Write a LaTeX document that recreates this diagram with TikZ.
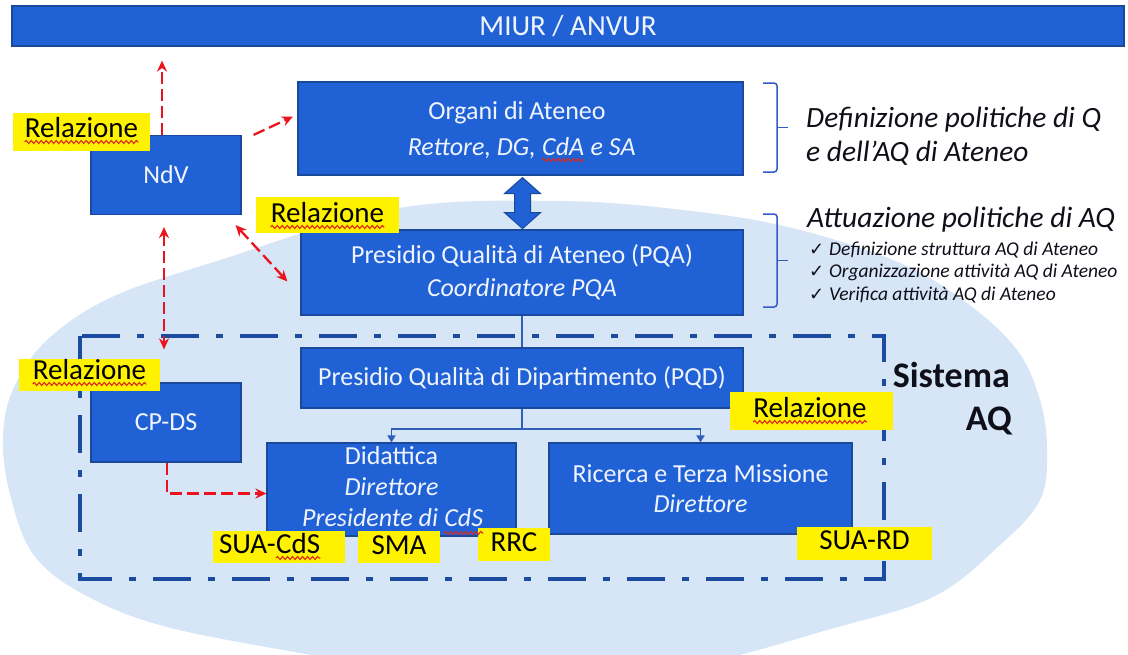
\documentclass[tikz,border=0pt]{standalone}
\usepackage{fontspec}
\setmainfont{Carlito}
\newfontfamily\djv{DejaVu Sans}
\usetikzlibrary{arrows.meta,calc,decorations.pathmorphing}
\definecolor{boxblue}{RGB}{32,98,214}
\definecolor{boxborder}{RGB}{26,72,155}
\definecolor{ellblue}{RGB}{214,230,247}
\definecolor{frameblue}{RGB}{28,76,160}
\definecolor{relred}{RGB}{235,20,30}
\definecolor{wavered}{RGB}{220,40,30}
\definecolor{boxtext}{RGB}{240,244,255}
\definecolor{lineblue}{RGB}{46,95,185}
\definecolor{bracketblue}{RGB}{50,90,200}
\definecolor{txtdark}{RGB}{15,15,25}
\tikzset{
  box/.style={draw=boxborder, line width=1.2pt, fill=boxblue, text=boxtext,
    font=\fontsize{26}{32}\selectfont, align=center, inner sep=0pt},
  btxt/.style={text=boxtext, font=\fontsize{26}{32}\selectfont, inner sep=0pt, anchor=base},
  lab/.style={fill=yellow, inner sep=0pt},
  labtxt/.style={text=black, font=\fontsize{29}{32}\selectfont, inner sep=0pt, anchor=base},
  wave/.style={draw=wavered, line width=1.1pt, decorate,
    decoration={snake, amplitude=1.5pt, segment length=5pt}},
  relarr/.style={draw=relred, line width=2.3pt, dash pattern=on 12pt off 5pt,
    -{Stealth[length=11pt,width=10pt]}},
  relboth/.style={relarr, {Stealth[length=11pt,width=10pt]}-{Stealth[length=11pt,width=10pt]}},
  conn/.style={draw=lineblue, line width=1.8pt},
  connarr/.style={conn, -{Triangle[length=7pt,width=8pt]}},
  bracket/.style={draw=bracketblue, line width=1.5pt, rounded corners=3pt},
  frame/.style={draw=frameblue, line width=4pt, dash pattern=on 38pt off 17pt on 7pt off 17pt},
  sidetext/.style={text=txtdark, inner sep=0pt}
}
\begin{document}
\begin{tikzpicture}[x=1pt,y=-1pt]
\useasboundingbox (0,0) rectangle (1128,654);
\fill[white] (0,0) rectangle (1128,654);
\clip (0,0) rectangle (1128,654);

% light ellipse
\fill[ellblue] plot[smooth cycle, tension=0.6] coordinates {
  (3,440) (12,392) (45,342) (110,298) (214,262) (393,209) (560,201) (700,212)
  (800,230) (900,263) (967,303) (1017,350) (1040,400) (1047,450) (1040,500)
  (1000,545) (933,597) (827,630) (700,664) (560,682) (430,676) (317,656)
  (167,627) (83,594) (33,554) (10,494)};

% Sistema AQ frame
\draw[frame] (80,336) rectangle (884,579);

% top bar
\node[box, font=\fontsize{29}{32}\selectfont, minimum width=1112pt, minimum height=40pt] (miur) at (568,26) {MIUR / ANVUR};

% boxes
\node[box, minimum width=445pt, minimum height=93pt] (org) at (520.5,128.5) {};
\node[btxt] (org1) at (517,119) {Organi di Ateneo};
\node[btxt, anchor=base west, font=\fontsize{26}{32}\selectfont\itshape] (org3) at (542,155) {CdA};
\node[btxt, anchor=base east, font=\fontsize{26}{32}\selectfont\itshape] (org2) at ([xshift=-6pt]org3.base west) {Rettore, DG,};
\node[btxt, anchor=base west, font=\fontsize{26}{32}\selectfont\itshape] (org4) at ([xshift=6pt]org3.base east) {e SA};
\draw[wave] ([yshift=-5pt]org3.base west) -- ([yshift=-5pt]org3.base east);

\node[box, minimum width=150pt, minimum height=79pt] (ndv) at (166,175) {NdV};
\node[box, font=\fontsize{26}{33}\selectfont, minimum width=442pt, minimum height=85pt] (pqa) at (522,272.5)
  {Presidio Qualità di Ateneo (PQA)\\ \textit{Coordinatore PQA}};
\node[box, minimum width=442pt, minimum height=60pt] (pqd) at (522,378) {Presidio Qualità di Dipartimento (PQD)};
\node[box, minimum width=150pt, minimum height=79pt] (cpds) at (166,422.5) {CP-DS};
\node[box, minimum width=249pt, minimum height=93pt] (did) at (391.5,489.5) {};
\node[btxt] (did1) at (391.5,464) {Didattica};
\node[btxt, font=\fontsize{26}{32}\selectfont\itshape] (did2) at (391.5,495) {Direttore};
\node[btxt, anchor=base west, font=\fontsize{26}{32}\selectfont\itshape] (did3) at (302,526) {Presidente di};
\node[btxt, anchor=base west, font=\fontsize{26}{32}\selectfont\itshape] (did4) at ([xshift=6pt]did3.base east) {CdS};
\node[box, font=\fontsize{26}{30}\selectfont, minimum width=303pt, minimum height=91pt] (ric) at (700.5,488.5)
  {Ricerca e Terza Missione\\ \textit{Direttore}};

% blue connectors
\draw[conn] (pqa.south) -- (pqd.north);
\draw[conn] (pqd.south) -- ++(0,20) coordinate (br);
\draw[connarr] (br) -| (did.north);
\draw[connarr] (br) -| (ric.north);

% big double arrow
\draw[fill=boxblue, draw=boxborder, line width=1pt, line join=miter]
  ($(org.south)+(2,2)$) -- ++(18,16) -- ++(-10,0) -- ++(0,19) -- ++(10,0) -- ++(-18,16)
  -- ++(-18,-16) -- ++(10,0) -- ++(0,-19) -- ++(-10,0) -- cycle;

% red relation arrows
\draw[relarr, shorten >=14pt] ([xshift=-4pt]ndv.north) -- ([xshift=-4pt]ndv.north |- miur.south);
\draw[relarr, shorten >=5pt] ([xshift=12pt]ndv.north east) -- ([yshift=14pt]org.west);
\draw[relboth] ([xshift=-6pt,yshift=-10pt]ndv.south east) -- ([xshift=-13pt,yshift=-9pt]pqa.west);
\draw[relboth] ([xshift=-2pt,yshift=-12pt]ndv.south) -- ([xshift=-2pt,yshift=33pt]cpds.north);
\draw[relarr] ([xshift=1pt]cpds.south) |- ([yshift=-4pt]did.west);

% yellow labels
\node[lab, minimum width=137pt, minimum height=38pt] (r1) at (81.5,132) {};
\node[labtxt] (r1t) at (81.5,137) {Relazione};
\node[lab, minimum width=143pt, minimum height=36pt] (r2) at (327.5,215) {};
\node[labtxt] (r2t) at (327.5,222) {Relazione};
\node[lab, minimum width=141pt, minimum height=32pt] (r3) at (89.5,375) {};
\node[labtxt] (r3t) at (89.5,379) {Relazione};
\node[lab, minimum width=163pt, minimum height=38pt] (r4) at (811.5,411) {};
\node[labtxt] (r4t) at (810,417) {Relazione};
\foreach \t in {r1t,r2t,r3t,r4t}
  \draw[wave] ([yshift=-5pt]\t.base west) -- ([yshift=-5pt]\t.base east);
\node[lab, minimum width=132pt, minimum height=32pt] (sc) at (279,547) {};
\node[labtxt, anchor=base east] (sc1) at (276,553) {SUA-};
\node[labtxt, anchor=base west] (sc2) at (sc1.base east) {CdS};
\draw[wave] ([yshift=-5pt]sc2.base west) -- ([yshift=-5pt]sc2.base east);
\node[lab, minimum width=82pt, minimum height=32pt] (sma) at (399,547) {};
\node[labtxt] (smat) at (399,554) {SMA};
\node[lab, minimum width=72pt, minimum height=33pt] (rrc) at (514,544.5) {};
\node[labtxt] (rrct) at (514,551) {RRC};
\node[lab, minimum width=135pt, minimum height=33pt] (srd) at (864.5,543.5) {};
\node[labtxt] (srdt) at (864.5,549) {SUA-RD};
% wave under CdS of Didattica
\draw[wave] ([yshift=-7pt]did4.base west) -- ([yshift=-7pt]did4.base east);

% brackets
\draw[bracket] (763,83) -- (777,83) -- (777,172) -- (763,172);
\draw[bracket] (777,127.5) -- (788,127.5);
\draw[bracket] (763,214) -- (777,214) -- (777,307) -- (763,307);
\draw[bracket] (777,260.5) -- (788,260.5);

% side texts
\node[sidetext, anchor=base west, font=\fontsize{29.4}{32}\selectfont\itshape] (def1) at (806,127) {Definizione politiche di Q};
\node[sidetext, anchor=base west, font=\fontsize{29.4}{32}\selectfont\itshape] (def2) at (806,161) {e dell’AQ di Ateneo};
\node[sidetext, anchor=base west, font=\fontsize{29.5}{32}\selectfont\itshape] (att) at (807,227) {Attuazione politiche di AQ};
\node[sidetext, anchor=base west, font=\fontsize{19.5}{22}\selectfont\itshape] (ck1) at (809,255)
  {\makebox[20pt][l]{\djv\upshape\fontsize{18}{18}\selectfont ✓}Definizione struttura AQ di Ateneo};
\node[sidetext, anchor=base west, font=\fontsize{19.5}{22}\selectfont\itshape] (ck2) at (809,277.5)
  {\makebox[20pt][l]{\djv\upshape\fontsize{18}{18}\selectfont ✓}Organizzazione attività AQ di Ateneo};
\node[sidetext, anchor=base west, font=\fontsize{19.5}{22}\selectfont\itshape] (ck3) at (809,300)
  {\makebox[20pt][l]{\djv\upshape\fontsize{18}{18}\selectfont ✓}Verifica attività AQ di Ateneo};
\node[sidetext, anchor=base east, font=\fontsize{36}{43}\selectfont\bfseries] (sis1) at (1010,387) {Sistema};
\node[sidetext, anchor=base east, font=\fontsize{36}{43}\selectfont\bfseries] (sis2) at (1012,430) {AQ};
\end{tikzpicture}
\end{document}
